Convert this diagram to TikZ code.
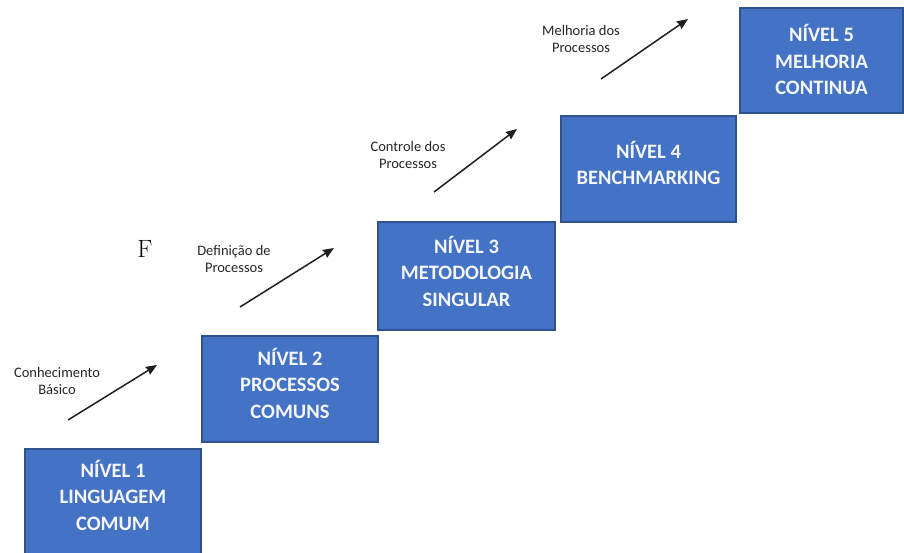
\documentclass[tikz,border=0pt]{standalone}
\usepackage{fontspec}
\setmainfont{Latin Modern Roman}
\newfontfamily\carl{Carlito}
\usetikzlibrary{arrows.meta}
\definecolor{boxfill}{HTML}{4472C4}
\definecolor{boxline}{HTML}{2F528F}
\definecolor{boxtext}{HTML}{F4F6FA}
\definecolor{arrowc}{HTML}{1E1E1E}
\definecolor{labelc}{HTML}{262626}
\tikzset{
  lvl/.style={draw=boxline, fill=boxfill, line width=1.3pt, inner sep=0pt},
  lvltext/.style={text=boxtext, align=center, inner sep=0pt,
    font=\carl\bfseries\fontsize{20.5}{26.5}\selectfont},
  steplabel/.style={text=labelc, align=center, inner sep=0pt,
    font=\carl\fontsize{14.5}{17.5}\selectfont},
  rise/.style={draw=arrowc, line width=1.5pt,
    -{Stealth[length=11pt,width=9pt,inset=1pt]}}
}
\begin{document}
\begin{tikzpicture}[x=1pt,y=-1pt]
\useasboundingbox (0,0) rectangle (904,552);

% the five levels, rising to the right
\node[lvl, minimum width=176pt, minimum height=106pt] (b1) at (113,502) {};
\node[lvl, minimum width=176pt, minimum height=106pt] (b2) at (290,389) {};
\node[lvl, minimum width=177pt, minimum height=108pt] (b3) at (466.5,276) {};
\node[lvl, minimum width=175pt, minimum height=106pt] (b4) at (648.5,169) {};
\node[lvl, minimum width=163pt, minimum height=105pt] (b5) at (821.5,60.5) {};

\node[lvltext] (t1) at ([yshift=7]b1.center) {NÍVEL 1\\LINGUAGEM\\COMUM};
\node[lvltext] (t2) at ([yshift=6]b2.center) {NÍVEL 2\\PROCESSOS\\COMUNS};
\node[lvltext] (t3) at ([yshift=5]b3.center) {NÍVEL 3\\METODOLOGIA\\SINGULAR};
\node[lvltext] (t4) at ([yshift=6]b4.center) {NÍVEL 4\\BENCHMARKING};
\node[lvltext] (t5) at ([yshift=1]b5.center) {NÍVEL 5\\MELHORIA\\CONTINUA};

% arrows between the levels
\coordinate (s1) at (68,420);  \coordinate (e1) at (157,365);
\coordinate (s2) at (240,307); \coordinate (e2) at (334,248);
\coordinate (s3) at (434,192); \coordinate (e3) at (517,129);
\coordinate (s4) at (601,79);  \coordinate (e4) at (688,19);
\draw[rise] (s1) -- (e1);
\draw[rise] (s2) -- (e2);
\draw[rise] (s3) -- (e3);
\draw[rise] (s4) -- (e4);

% captions of the arrows
\node[steplabel] (l1) at (57,381) {Conhecimento\\Básico};
\node[steplabel] (l2) at (234,259) {Definição de\\Processos};
\node[steplabel] (l3) at (408,155) {Controle dos\\Processos};
\node[steplabel] (l4) at (581,39) {Melhoria dos\\Processos};

\node[inner sep=0pt, font=\fontsize{25}{30}\selectfont] (f) at (145,249) {F};
\end{tikzpicture}
\end{document}
